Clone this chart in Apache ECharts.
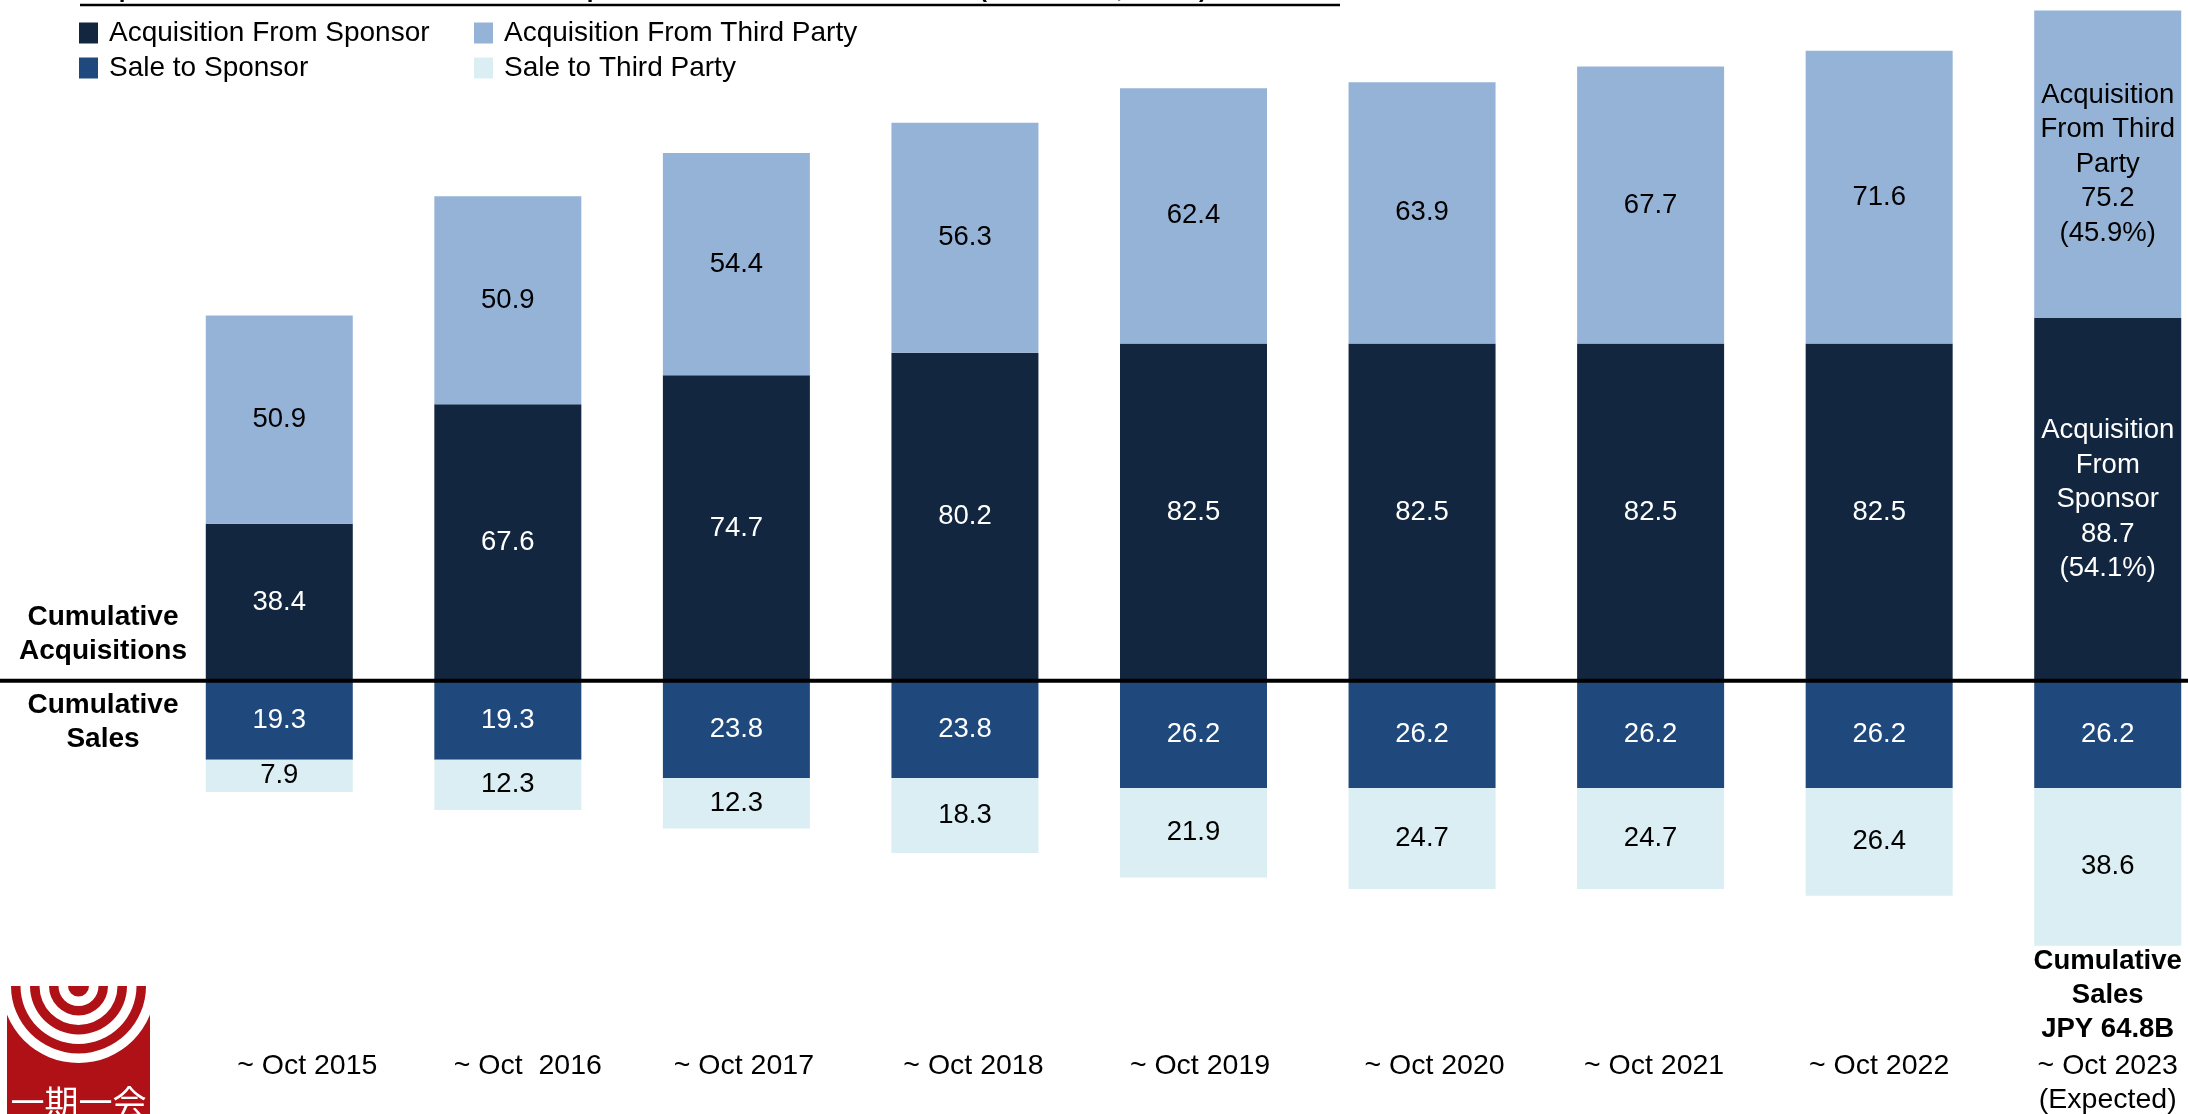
<!DOCTYPE html>
<html>
<head>
<meta charset="utf-8">
<title>Acquisitions and Sales</title>
<script src="https://cdn.jsdelivr.net/npm/echarts@6/dist/echarts.min.js"></script>
<style>
  html, body { margin: 0; padding: 0; background: #fff; }
  #chart { width: 2188px; height: 1114px; }
</style>
</head>
<body>
<div id="chart"></div>
<script>
var periods = ['~ Oct 2015', '~ Oct  2016', '~ Oct 2017', '~ Oct 2018', '~ Oct 2019',
  '~ Oct 2020', '~ Oct 2021', '~ Oct 2022', '~ Oct 2023\n(Expected)']
var acqSponsor = [38.4, 67.6, 74.7, 80.2, 82.5, 82.5, 82.5, 82.5, 88.7]
var acqThird = [50.9, 50.9, 54.4, 56.3, 62.4, 63.9, 67.7, 71.6, 75.2]
var saleSponsor = [19.3, 19.3, 23.8, 23.8, 26.2, 26.2, 26.2, 26.2, 26.2]
var saleThird = [7.9, 12.3, 12.3, 18.3, 21.9, 24.7, 24.7, 26.4, 38.6]

var FONT = 'Liberation Sans, Arial, sans-serif'
var last = periods.length - 1
var acqTotal = acqSponsor[last] + acqThird[last]
var saleTotal = saleSponsor[last] + saleThird[last]

// the period labels in the source sit a little right of their bars
var labelPadLeft = [56, 40, 15, 17, 13, 25, 7, 0, 0]

function share (v) {
  return '(' + (v / acqTotal * 100).toFixed(1) + '%)'
}

function neg (arr) {
  return arr.map(function (v) { return -v })
}

function makeLabel (color, src, lastText) {
  return {
    show: true,
    position: 'inside',
    color: color,
    fontFamily: FONT,
    fontSize: 27.5,
    lineHeight: 34.5,
    formatter: function (p) {
      if (p.dataIndex === last && lastText) return lastText
      return src[p.dataIndex].toFixed(1)
    }
  }
}

var legendText = { fontFamily: FONT, fontSize: 28, lineHeight: 27, color: '#000', padding: [0, 0, 0, 6] }

var chart = echarts.init(document.getElementById('chart'))

var option = {
  animation: false,
  backgroundColor: '#fff',
  textStyle: { fontFamily: FONT },
  legend: [{
    orient: 'vertical',
    left: 79,
    top: 19,
    padding: 0,
    itemWidth: 19,
    itemHeight: 21,
    itemGap: 7,
    icon: 'rect',
    selectedMode: false,
    textStyle: legendText,
    data: ['Acquisition From Sponsor', 'Sale to Sponsor']
  }, {
    orient: 'vertical',
    left: 474,
    top: 19,
    padding: 0,
    itemWidth: 19,
    itemHeight: 21,
    itemGap: 7,
    icon: 'rect',
    selectedMode: false,
    textStyle: legendText,
    data: ['Acquisition From Third Party', 'Sale to Third Party']
  }],
  grid: {
    left: 165,
    top: 2,
    width: 2057,
    height: 965,
    outerBoundsMode: 'none',
    containLabel: false
  },
  xAxis: {
    type: 'category',
    data: periods.map(function (p, i) {
      return { value: p, textStyle: { padding: [0, 0, 0, labelPadLeft[i]] } }
    }),
    axisLine: { show: false },
    axisTick: { show: false },
    axisLabel: {
      interval: 0,
      margin: 82,
      color: '#000',
      fontFamily: FONT,
      fontSize: 28.5,
      lineHeight: 34,
      verticalAlign: 'top'
    }
  },
  yAxis: {
    type: 'value',
    min: -70,
    max: 166,
    show: false,
    splitLine: { show: false }
  },
  series: [{
    name: 'Acquisition From Sponsor',
    type: 'bar',
    stack: 'total',
    barWidth: 147,
    data: acqSponsor,
    itemStyle: { color: '#12263f' },
    label: makeLabel('#fff', acqSponsor,
      'Acquisition\nFrom\nSponsor\n' + acqSponsor[last].toFixed(1) + '\n' + share(acqSponsor[last]))
  }, {
    name: 'Acquisition From Third Party',
    type: 'bar',
    stack: 'total',
    barWidth: 147,
    data: acqThird,
    itemStyle: { color: '#95b3d7' },
    label: makeLabel('#000', acqThird,
      'Acquisition\nFrom Third\nParty\n' + acqThird[last].toFixed(1) + '\n' + share(acqThird[last]))
  }, {
    name: 'Sale to Sponsor',
    type: 'bar',
    stack: 'total',
    barWidth: 147,
    data: neg(saleSponsor),
    itemStyle: { color: '#1f497d' },
    label: makeLabel('#fff', saleSponsor)
  }, {
    name: 'Sale to Third Party',
    type: 'bar',
    stack: 'total',
    barWidth: 147,
    data: neg(saleThird),
    itemStyle: { color: '#daeef3' },
    label: makeLabel('#000', saleThird),
    markPoint: {
      symbol: 'rect',
      symbolSize: 0,
      silent: true,
      label: {
        show: true,
        position: 'bottom',
        distance: -1,
        color: '#000',
        fontFamily: FONT,
        fontWeight: 'bold',
        fontSize: 27.5,
        lineHeight: 34,
        align: 'center',
        formatter: 'Cumulative\nSales\nJPY ' + saleTotal.toFixed(1) + 'B'
      },
      data: [{ coord: [last, -saleTotal] }]
    }
  }]
}

chart.setOption(option)

// divider at zero, taken from the value axis
var zeroY = chart.convertToPixel({ yAxisIndex: 0 }, 0)

var sideText = {
  fontFamily: FONT,
  fontWeight: 'bold',
  fontSize: 28,
  lineHeight: 34,
  fill: '#000',
  textAlign: 'center',
  textVerticalAlign: 'middle'
}

var rings = [[10.5, 20], [29.5, 39], [48.5, 58], [67.5, 77]]

chart.setOption({
  graphic: [
    {
      type: 'text',
      left: 80,
      top: -22,
      style: {
        text: 'Acquisitions and Sales Since Transition to Specialized Office REIT in Oct 2015 (Cumulative, JPY B)',
        fontFamily: FONT,
        fontWeight: 'bold',
        fontSize: 24,
        fill: '#000'
      }
    },
    {
      type: 'line',
      shape: { x1: 80, y1: 5, x2: 1340, y2: 5 },
      style: { stroke: '#000', lineWidth: 2.5 }
    },
    {
      type: 'text',
      x: 103,
      y: 634,
      style: Object.assign({ text: 'Cumulative\nAcquisitions' }, sideText)
    },
    {
      type: 'text',
      x: 103,
      y: 722,
      style: Object.assign({ text: 'Cumulative\nSales' }, sideText)
    },
    {
      type: 'line',
      z: 100,
      shape: { x1: 0, y1: zeroY, x2: 2188, y2: zeroY },
      style: { stroke: '#000', lineWidth: 4 }
    },
    {
      type: 'group',
      children: [
        {
          type: 'rect',
          shape: { x: 7, y: 986, width: 143, height: 140 },
          style: { fill: '#b01116' }
        }
      ].concat(rings.map(function (r) {
        return {
          type: 'ring',
          shape: { cx: 78.5, cy: 986, r0: r[0], r: r[1] },
          style: { fill: '#fff' }
        }
      })).concat([{
        type: 'text',
        x: 78.5,
        y: 1102,
        style: {
          text: '一期一会',
          fontFamily: 'Noto Sans CJK JP',
          fontSize: 34,
          fill: '#fff',
          textAlign: 'center',
          textVerticalAlign: 'middle'
        }
      }])
    }
  ]
})
</script>
</body>
</html>
